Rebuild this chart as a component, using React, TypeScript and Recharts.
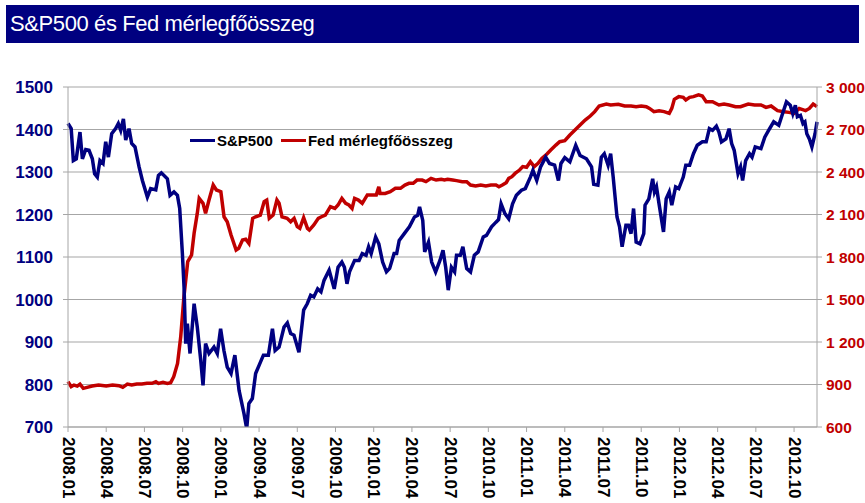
import React from "react";
import { CartesianGrid, Line, LineChart, XAxis, YAxis } from "recharts";

// month index (0 = 2008.01) → value
const SP500: [number, number][] = [
  [0, 1414], [0.25, 1402], [0.42, 1327], [0.65, 1331], [0.94, 1394], [1.13, 1331],
  [1.39, 1353], [1.65, 1351], [1.91, 1331], [2.09, 1296], [2.3, 1288], [2.51, 1327],
  [2.75, 1320], [2.96, 1371], [3.17, 1335], [3.43, 1390], [3.74, 1402], [3.95, 1414],
  [4.14, 1398], [4.35, 1425], [4.53, 1375], [4.79, 1402], [5.0, 1367], [5.26, 1359],
  [5.58, 1312], [5.84, 1280], [6.23, 1241], [6.49, 1261], [6.89, 1258], [7.1, 1292],
  [7.33, 1298], [7.8, 1284], [8.01, 1245], [8.32, 1253], [8.59, 1245], [8.77, 1214],
  [8.98, 1108], [9.11, 1029], [9.24, 896], [9.37, 943], [9.58, 873], [9.9, 990],
  [10.15, 935], [10.42, 857], [10.6, 798], [10.8, 896], [11.07, 873], [11.46, 888],
  [11.72, 873], [11.98, 931], [12.24, 880], [12.5, 841], [12.8, 826], [13.1, 869],
  [13.43, 786], [13.82, 731], [14.03, 696], [14.2, 755], [14.47, 767], [14.73, 826],
  [15.0, 845], [15.34, 869], [15.73, 869], [16.05, 931], [16.26, 880], [16.57, 888],
  [16.96, 935], [17.22, 945], [17.48, 920], [17.74, 916], [18.13, 876], [18.5, 975],
  [18.78, 990], [19.05, 1010], [19.3, 1006], [19.6, 1025], [19.86, 1018], [20.1, 1045],
  [20.5, 1069], [20.9, 1025], [21.2, 1076], [21.5, 1088], [21.7, 1076], [21.9, 1037],
  [22.1, 1065], [22.5, 1092], [22.85, 1092], [23.1, 1108], [23.4, 1104], [23.6, 1124],
  [23.8, 1108], [24.15, 1147], [24.4, 1131], [24.7, 1088], [25.0, 1065], [25.25, 1073],
  [25.6, 1108], [25.8, 1108], [26.0, 1139], [26.4, 1155], [26.8, 1171], [27.2, 1194],
  [27.45, 1198], [27.6, 1218], [27.85, 1186], [28.0, 1112], [28.3, 1135], [28.55, 1088],
  [28.86, 1065], [29.2, 1092], [29.44, 1116], [29.65, 1076], [29.85, 1022], [30.1, 1076],
  [30.35, 1065], [30.5, 1104], [30.8, 1104], [31.0, 1124], [31.3, 1073], [31.6, 1065],
  [31.9, 1104], [32.2, 1112], [32.6, 1147], [32.85, 1151], [33.25, 1171], [33.6, 1182],
  [33.8, 1188], [34.0, 1225], [34.3, 1202], [34.6, 1190], [34.9, 1225], [35.2, 1245],
  [35.6, 1257], [35.9, 1261], [36.3, 1288], [36.5, 1304], [36.8, 1280], [37.1, 1312],
  [37.5, 1335], [37.8, 1320], [38.2, 1316], [38.5, 1280], [38.7, 1320], [39.0, 1334],
  [39.4, 1324], [39.86, 1363], [40.2, 1339], [40.7, 1331], [41.1, 1312], [41.27, 1271],
  [41.6, 1269], [41.87, 1335], [42.1, 1343], [42.4, 1316], [42.6, 1343], [42.8, 1288],
  [43.1, 1194], [43.3, 1171], [43.5, 1124], [43.8, 1175], [44.0, 1175], [44.2, 1155],
  [44.4, 1214], [44.6, 1135], [44.9, 1131], [45.2, 1155], [45.3, 1222], [45.6, 1237],
  [45.9, 1284], [46.04, 1253], [46.2, 1265], [46.4, 1225], [46.75, 1159], [46.96, 1237],
  [47.2, 1253], [47.4, 1222], [47.7, 1265], [47.95, 1261], [48.3, 1288], [48.5, 1316],
  [48.8, 1316], [49.1, 1343], [49.4, 1363], [49.8, 1371], [50.1, 1371], [50.35, 1402],
  [50.6, 1398], [50.9, 1408], [51.1, 1394], [51.3, 1371], [51.65, 1378], [51.9, 1402],
  [52.1, 1367], [52.3, 1351], [52.6, 1296], [52.8, 1312], [52.96, 1280], [53.2, 1327],
  [53.5, 1343], [53.7, 1335], [53.95, 1359], [54.4, 1355], [54.7, 1382], [55.0, 1398],
  [55.4, 1418], [55.8, 1410], [56.05, 1433], [56.4, 1465], [56.7, 1457], [56.9, 1437],
  [57.1, 1457], [57.26, 1430], [57.5, 1433], [57.7, 1414], [57.85, 1418], [58.0, 1390],
  [58.2, 1378], [58.4, 1359], [58.65, 1390], [58.8, 1418],
];

const FED: [number, number][] = [
  [0, 920], [0.25, 885], [0.47, 896], [0.73, 889], [0.94, 903], [1.2, 873], [1.5, 880],
  [1.9, 889], [2.4, 896], [3.0, 889], [3.5, 896], [4.0, 892], [4.3, 880], [4.66, 903],
  [5.0, 896], [5.4, 903], [5.8, 903], [6.2, 908], [6.6, 908], [6.9, 920], [7.1, 908],
  [7.46, 915], [7.8, 908], [8.06, 913], [8.3, 955], [8.6, 1049], [8.85, 1238], [9.1, 1518],
  [9.4, 1767], [9.7, 1814], [9.9, 1967], [10.15, 2108], [10.3, 2214], [10.6, 2179],
  [10.8, 2108], [11.07, 2202], [11.4, 2308], [11.65, 2273], [12.0, 2261], [12.25, 2084],
  [12.5, 2049], [12.8, 1955], [13.2, 1849], [13.4, 1861], [13.7, 1920], [13.95, 1925],
  [14.2, 1896], [14.5, 2073], [14.73, 2084], [15.1, 2096], [15.4, 2191], [15.6, 2202],
  [15.8, 2073], [16.1, 2096], [16.4, 2202], [16.57, 2179], [16.8, 2084], [17.2, 2073],
  [17.48, 2049], [17.75, 2073], [18.0, 2014], [18.2, 2002], [18.5, 2078], [18.8, 2002],
  [18.95, 1990], [19.3, 2026], [19.65, 2073], [19.9, 2084], [20.2, 2096], [20.6, 2155],
  [20.95, 2143], [21.2, 2167], [21.5, 2214], [21.8, 2179], [22.05, 2167], [22.3, 2143],
  [22.5, 2214], [22.8, 2202], [23.1, 2179], [23.5, 2238], [23.9, 2238], [24.2, 2238],
  [24.4, 2296], [24.5, 2249], [24.9, 2249], [25.3, 2261], [25.7, 2285], [26.1, 2285],
  [26.45, 2308], [26.77, 2320], [27.1, 2320], [27.4, 2343], [27.8, 2343], [28.1, 2332],
  [28.5, 2355], [28.9, 2343], [29.3, 2348], [29.55, 2343], [29.8, 2348], [30.2, 2343],
  [30.5, 2339], [30.95, 2332], [31.3, 2332], [31.6, 2308], [32.0, 2301], [32.4, 2308],
  [32.8, 2301], [33.2, 2308], [33.6, 2308], [33.83, 2296], [34.1, 2308], [34.4, 2325],
  [34.6, 2355], [34.85, 2367], [35.1, 2390], [35.45, 2414], [35.7, 2438], [36.0, 2433],
  [36.3, 2473], [36.6, 2438], [36.9, 2461], [37.2, 2496], [37.6, 2527], [37.9, 2555],
  [38.3, 2590], [38.6, 2614], [39.0, 2621], [39.4, 2661], [39.8, 2696], [40.2, 2732],
  [40.6, 2767], [41.0, 2795], [41.35, 2826], [41.7, 2866], [42.26, 2880], [42.6, 2873],
  [43.2, 2878], [43.7, 2866], [44.2, 2866], [44.6, 2861], [45.0, 2866], [45.4, 2861],
  [45.65, 2849], [46.0, 2826], [46.4, 2833], [46.8, 2826], [47.2, 2814], [47.4, 2849],
  [47.6, 2913], [47.95, 2932], [48.3, 2927], [48.5, 2908], [48.8, 2927], [49.1, 2932],
  [49.5, 2944], [49.8, 2936], [50.1, 2896], [50.6, 2896], [51.1, 2873], [51.5, 2880],
  [51.9, 2873], [52.4, 2861], [52.8, 2861], [53.4, 2880], [53.9, 2873], [54.4, 2873],
  [54.8, 2856], [55.2, 2866], [55.7, 2833], [56.2, 2826], [56.6, 2821], [57.0, 2814],
  [57.4, 2849], [57.9, 2833], [58.2, 2849], [58.5, 2880], [58.8, 2861],
];

const X_LABELS = [
  "2008.01", "2008.04", "2008.07", "2008.10", "2009.01", "2009.04", "2009.07",
  "2009.10", "2010.01", "2010.04", "2010.07", "2010.10", "2011.01", "2011.04",
  "2011.07", "2011.10", "2012.01", "2012.04", "2012.07", "2012.10",
];
const LEFT_TICKS = [700, 800, 900, 1000, 1100, 1200, 1300, 1400, 1500];
const RIGHT_TICKS = [600, 900, 1200, 1500, 1800, 2100, 2400, 2700, 3000];

const NAVY = "#000080";
const RED = "#c00000";
const GRID = "#a6a6a6";
const FONT = '"Liberation Sans", Arial, sans-serif';

// merge both series on the month index
const rows = (() => {
  const map = new Map<number, { m: number; sp?: number; fed?: number }>();
  SP500.forEach(([m, v]) => map.set(m, { ...(map.get(m) || { m }), sp: v }));
  FED.forEach(([m, v]) => map.set(m, { ...(map.get(m) || { m }), fed: v }));
  return [...map.values()].sort((a, b) => a.m - b.m);
})();

const spaced = (v: number) =>
  v >= 1000 ? `${Math.floor(v / 1000)} ${String(v % 1000).padStart(3, "0")}` : String(v);

/* eslint-disable @typescript-eslint/no-explicit-any */
function MonthTick({ x, y, payload }: any) {
  const label = X_LABELS[Math.round(payload.value / 3)];
  return (
    <text
      x={x + 3}
      y={y}
      transform={`rotate(90 ${x} ${y})`}
      dominantBaseline="central"
      textAnchor="start"
      fontFamily={FONT}
      fontWeight="bold"
      fontSize={17}
      fill="#000"
    >
      {label}
    </text>
  );
}
/* eslint-enable @typescript-eslint/no-explicit-any */

function LegendItem({ color, label }: { color: string; label: string }) {
  return (
    <span style={{ display: "inline-flex", alignItems: "center", marginRight: 8 }}>
      <span style={{ width: 25, height: 3, background: color, display: "inline-block" }} />
      <span style={{ marginLeft: 2 }}>{label}</span>
    </span>
  );
}

export default function App() {
  return (
    <div
      style={{
        position: "absolute",
        left: 0,
        top: 0,
        width: 865,
        height: 503,
        background: "#fff",
        overflow: "hidden",
      }}
    >
      <div
        style={{
          position: "absolute",
          left: 6,
          top: 5,
          width: 853,
          height: 38,
          background: NAVY,
          color: "#fff",
          fontFamily: FONT,
          fontSize: 22,
          letterSpacing: -0.4,
          lineHeight: "38px",
          paddingLeft: 4,
          boxSizing: "border-box",
        }}
      >
        S&amp;P500 és Fed mérlegfőösszeg
      </div>

      <LineChart
        width={865}
        height={503}
        data={rows}
        margin={{ top: 87, right: 0, bottom: 6, left: 8 }}
        style={{ position: "absolute", left: 0, top: 0 }}
      >
        <CartesianGrid yAxisId="l" vertical={false} stroke={GRID} strokeWidth={1.2} />
        <XAxis
          dataKey="m"
          type="number"
          domain={[0, 58.8]}
          ticks={X_LABELS.map((_, i) => i * 3)}
          interval={0}
          height={70}
          stroke={GRID}
          tickSize={5}
          tickMargin={2}
          tick={<MonthTick />}
        />
        <YAxis
          yAxisId="l"
          width={60}
          domain={[700, 1500]}
          ticks={LEFT_TICKS}
          allowDataOverflow
          stroke={GRID}
          tickSize={5}
          tickMargin={10}
          tick={{ fill: NAVY, fontSize: 17, fontWeight: "bold", fontFamily: FONT }}
        />
        <YAxis
          yAxisId="r"
          orientation="right"
          width={48}
          domain={[600, 3000]}
          ticks={RIGHT_TICKS}
          tickFormatter={spaced}
          stroke={GRID}
          tickSize={5}
          tickMargin={4}
          tick={{ fill: RED, fontSize: 15.5, fontWeight: "bold", fontFamily: FONT }}
        />
        <Line
          yAxisId="r"
          dataKey="fed"
          stroke={RED}
          strokeWidth={3.5}
          dot={false}
          connectNulls
          isAnimationActive={false}
        />
        <Line
          yAxisId="l"
          dataKey="sp"
          stroke={NAVY}
          strokeWidth={3.5}
          dot={false}
          connectNulls
          isAnimationActive={false}
        />
      </LineChart>

      <div
        style={{
          position: "absolute",
          left: 190,
          top: 128,
          fontFamily: FONT,
          fontWeight: "bold",
          fontSize: 15,
          color: "#000",
          whiteSpace: "nowrap",
        }}
      >
        <LegendItem color={NAVY} label="S&P500" />
        <LegendItem color={RED} label="Fed mérlegfőösszeg" />
      </div>
    </div>
  );
}
